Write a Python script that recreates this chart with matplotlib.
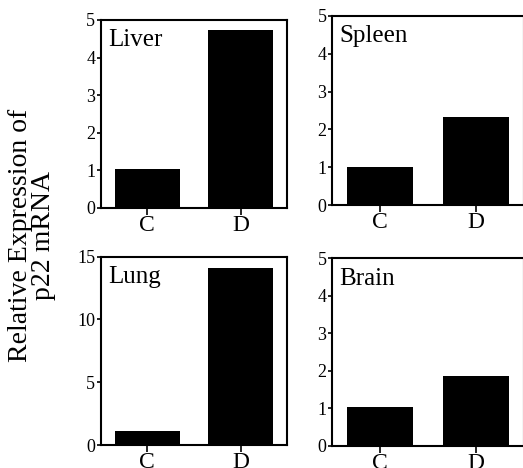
import matplotlib
matplotlib.use("Agg")
from matplotlib import pyplot as plt

plt.rcParams['font.family'] = ['Liberation Serif', 'DejaVu Serif']

groups = ["C", "D"]
tissues = ["Liver", "Spleen", "Lung", "Brain"]
liver = [1.03, 4.73]
spleen = [1.01, 2.32]
lung = [1.1, 14.08]
brain = [1.02, 1.86]
y_max = [5, 5, 15, 5]
y_ticks = [[0, 1, 2, 3, 4, 5], [0, 1, 2, 3, 4, 5], [0, 5, 10, 15], [0, 1, 2, 3, 4, 5]]

W, H = 523, 468


def px_axes(fig, left, top, right, bottom):
    return fig.add_axes([left / W, 1 - bottom / H, (right - left) / W, (bottom - top) / H])


def main():
    fig = plt.figure(figsize=(W / 100, H / 100), dpi=100)
    boxes = [
        (100.7, 20, 287.3, 208),
        (332, 16, 524, 205),
        (100.7, 256.7, 287.3, 445),
        (332, 258.3, 524, 445.7),
    ]
    values = [liver, spleen, lung, brain]

    for name, vals, box, ymax, ticks in zip(tissues, values, boxes, y_max, y_ticks):
        ax = px_axes(fig, *box)
        ax.bar([0, 1], vals, width=0.69, color='black', edgecolor='none')
        ax.set_xlim(-0.5, 1.5)
        ax.set_ylim(0, ymax)
        ax.set_yticks(ticks)
        ax.set_xticks([0, 1])
        ax.set_xticklabels(groups)
        ax.tick_params(axis='y', direction='out', length=3, width=1.2, pad=1, labelsize=13)
        ax.tick_params(axis='x', direction='out', length=5, width=1.2, pad=0, labelsize=17)
        for s in ax.spines.values():
            s.set_linewidth(1.5)
        ax.text(0.04, 0.95, name, transform=ax.transAxes, ha='left', va='top', fontsize=18)

    fig.text(0.062, 0.496, "Relative Expression of\np22 mRNA", rotation=90,
             ha='center', va='center', multialignment='center', fontsize=20, linespacing=0.9)

    fig.savefig("out.png", dpi=100)
    plt.close(fig)


if __name__ == "__main__":
    main()
